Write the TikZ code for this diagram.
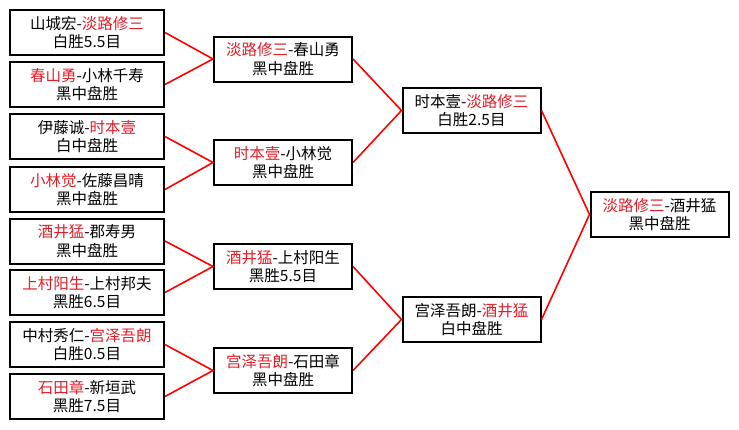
\documentclass[tikz,border=0pt]{standalone}
\usepackage{fontspec}
\newfontfamily\cjk{Noto Sans CJK SC}
\definecolor{winred}{RGB}{225,30,40}
\newcommand{\w}[1]{\textcolor{winred}{#1}}

\begin{document}
\begin{tikzpicture}[x=1pt, y=-1pt,
    match/.style={draw=black, line width=2pt, minimum width=154pt, minimum height=45pt,
        inner sep=0pt, align=center, font=\cjk\fontsize{15.5}{18.5}\selectfont},
    late/.style={match, minimum width=138pt},
    link/.style={draw=red, line width=1.6pt}]
    \useasboundingbox[fill=white] (0,0) rectangle (739,429);

	% first round
	\node[match] (m1) at (87, 32.5) {山城宏-\w{淡路修三}\\白胜5.5目};
	\node[match] (m2) at (87, 84.5) {\w{春山勇}-小林千寿\\黑中盘胜};
	\node[match] (m3) at (87, 136.5) {伊藤诚-\w{时本壹}\\白中盘胜};
	\node[match] (m4) at (87, 189.5) {\w{小林觉}-佐藤昌晴\\黑中盘胜};
	\node[match] (m5) at (87, 241) {\w{酒井猛}-郡寿男\\黑中盘胜};
	\node[match] (m6) at (87, 292.5) {\w{上村阳生}-上村邦夫\\黑胜6.5目};
	\node[match] (m7) at (87, 344.5) {中村秀仁-\w{宫泽吾朗}\\白胜0.5目};
	\node[match] (m8) at (87, 396.5) {\w{石田章}-新垣武\\黑胜7.5目};

	% second round
	\node[late] (q1) at (283, 59) {\w{淡路修三}-春山勇\\黑中盘胜};
	\node[late] (q2) at (283, 162.5) {\w{时本壹}-小林觉\\黑中盘胜};
	\node[late] (q3) at (283, 266.5) {\w{酒井猛}-上村阳生\\黑胜5.5目};
	\node[late] (q4) at (283, 370.5) {\w{宫泽吾朗}-石田章\\黑中盘胜};

	% semi and final
	\node[late] (s1) at (471.5, 110.5) {时本壹-\w{淡路修三}\\白胜2.5目};
	\node[late] (s2) at (471.5, 319.5) {宫泽吾朗-\w{酒井猛}\\白中盘胜};
	\node[late] (f) at (659.5, 214.5) {\w{淡路修三}-酒井猛\\黑中盘胜};

	\draw[link] (m1.east) -- (q1.west) -- (m2.east);
	\draw[link] (m3.east) -- (q2.west) -- (m4.east);
	\draw[link] (m5.east) -- (q3.west) -- (m6.east);
	\draw[link] (m7.east) -- (q4.west) -- (m8.east);
	\draw[link] (q1.east) -- (s1.west) -- (q2.east);
	\draw[link] (q3.east) -- (s2.west) -- (q4.east);
	\draw[link] (s1.east) -- (f.west) -- (s2.east);
\end{tikzpicture}
\end{document}
